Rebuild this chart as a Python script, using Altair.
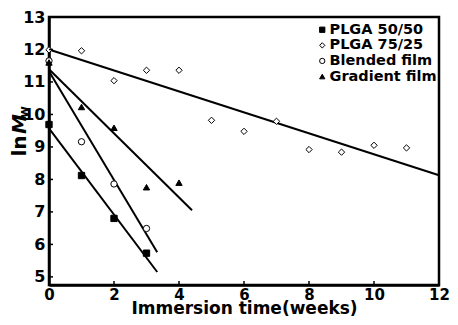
import altair as alt
import pandas as pd

# ---- data ----
series_names = ["PLGA 50/50", "PLGA 75/25", "Blended film", "Gradient film"]

x_5050 = [0, 1, 2, 3]
y_5050 = [9.69, 8.12, 6.80, 5.73]

x_7525 = [0, 1, 2, 3, 4, 5, 6, 7, 8, 9, 10, 11]
y_7525 = [11.99, 11.96, 11.04, 11.36, 11.36, 9.82, 9.48, 9.79, 8.92, 8.84, 9.05, 8.97]

x_blend = [0, 1, 2, 3]
y_blend = [11.65, 9.16, 7.86, 6.49]

x_grad = [0, 1, 2, 3, 4]
y_grad = [11.60, 10.23, 9.59, 7.76, 7.90]

# fitted straight lines (start / end points)
fit_x_start = [0, 0, 0, 0]
fit_y_start = [9.57, 12.00, 11.33, 11.39]
fit_x_end = [3.33, 12, 3.33, 4.40]
fit_y_end = [5.15, 8.13, 5.76, 7.05]

x_tick_values = [0, 2, 4, 6, 8, 10, 12]
y_tick_values = [5, 6, 7, 8, 9, 10, 11, 12, 13]
x_title = "Immersion time(weeks)"
y_title_parts = ["ln", "M", "w"]

series_fill = ["black", "white", "white", "black"]
series_stroke = ["black", "black", "black", "black"]
series_shape = ["square", "diamond", "circle", "triangle-up"]

# ---- build tables ----
rows = []
for name, xs, ys in zip(series_names,
                        [x_5050, x_7525, x_blend, x_grad],
                        [y_5050, y_7525, y_blend, y_grad]):
    for xv, yv in zip(xs, ys):
        rows.append({"series": name, "x": xv, "y": yv})
points = pd.DataFrame(rows)

fits = pd.DataFrame({"series": series_names, "x1": fit_x_start, "y1": fit_y_start,
                     "x2": fit_x_end, "y2": fit_y_end})

FONT = "DejaVu Sans"
W, H = 390, 268

xscale = alt.Scale(domain=[0, 12], nice=False, zero=False)
yscale = alt.Scale(domain=[4.75, 13], nice=False, zero=False)

xaxis = alt.Axis(values=x_tick_values, title=x_title, ticks=False, tickSize=0,
                 labelPadding=2.5, labelFlush=False, labelFontSize=15,
                 titleFontSize=17, titlePadding=-2, format="d")
yaxis = alt.Axis(values=y_tick_values, title=None, ticks=False, tickSize=0,
                 labelPadding=4, labelFlush=False, labelFontSize=16, format="d")

legend = alt.Legend(title=None, orient="none", legendX=263, legendY=5.5,
                    labelFont=FONT, labelFontWeight="bold", labelFontSize=14.5,
                    labelColor="black", symbolSize=28, symbolStrokeWidth=1,
                    symbolOffset=3, labelOffset=0, rowPadding=0.6, padding=0)

lines = alt.Chart(fits).mark_rule(color="black", strokeWidth=2).encode(
    x=alt.X("x1:Q", scale=xscale, axis=xaxis),
    y=alt.Y("y1:Q", scale=yscale, axis=yaxis),
    x2="x2:Q",
    y2="y2:Q",
)

pts = alt.Chart(points).mark_point(filled=True, strokeWidth=1,
                                   opacity=1, size=40).encode(
    x=alt.X("x:Q", scale=xscale, axis=xaxis),
    y=alt.Y("y:Q", scale=yscale, axis=yaxis),
    shape=alt.Shape("series:N", scale=alt.Scale(domain=series_names, range=series_shape),
                    legend=legend),
    fill=alt.Fill("series:N", scale=alt.Scale(domain=series_names, range=series_fill),
                  legend=legend),
    stroke=alt.Stroke("series:N", scale=alt.Scale(domain=series_names, range=series_stroke),
                      legend=legend),
)

yticks = alt.Chart(pd.DataFrame({"v": y_tick_values})).mark_rule(
    color="black", strokeWidth=1.5).encode(
    y=alt.Y("v:Q", scale=yscale, axis=yaxis),
    x=alt.value(0), x2=alt.value(4),
)
xticks = alt.Chart(pd.DataFrame({"v": x_tick_values})).mark_rule(
    color="black", strokeWidth=1.5).encode(
    x=alt.X("v:Q", scale=xscale, axis=xaxis),
    y=alt.value(H), y2=alt.value(H - 4),
)

tdf = pd.DataFrame({"t": y_title_parts})
t_ln = alt.Chart(tdf.iloc[[0]]).mark_text(
    font=FONT, fontWeight="bold", fontSize=20, angle=270, align="center",
    baseline="middle", color="black").encode(
    x=alt.value(-29), y=alt.value(129), text="t:N")
t_m = alt.Chart(tdf.iloc[[1]]).mark_text(
    font=FONT, fontWeight="bold", fontStyle="italic", fontSize=20, angle=270,
    align="center", baseline="middle", color="black").encode(
    x=alt.value(-29), y=alt.value(107), text="t:N")
t_w = alt.Chart(tdf.iloc[[2]]).mark_text(
    font=FONT, fontWeight="bold", fontSize=13, angle=270, align="center",
    baseline="middle", color="black").encode(
    x=alt.value(-25), y=alt.value(95), text="t:N")

chart = alt.layer(lines, pts, yticks, xticks, t_ln, t_m, t_w).properties(
    width=W, height=H,
    autosize=alt.AutoSizeParams(type="none"),
    padding={"left": 41, "top": 9, "right": 11, "bottom": 32},
).configure_view(
    stroke="black", strokeWidth=2.5
).configure_axis(
    grid=False, domainColor="black", domainWidth=2.5,
    labelFont=FONT, labelFontWeight="bold", labelColor="black",
    titleFont=FONT, titleFontWeight="bold", titleColor="black",
)

chart.save("out.html", embed_options={"renderer": "svg", "actions": False})
